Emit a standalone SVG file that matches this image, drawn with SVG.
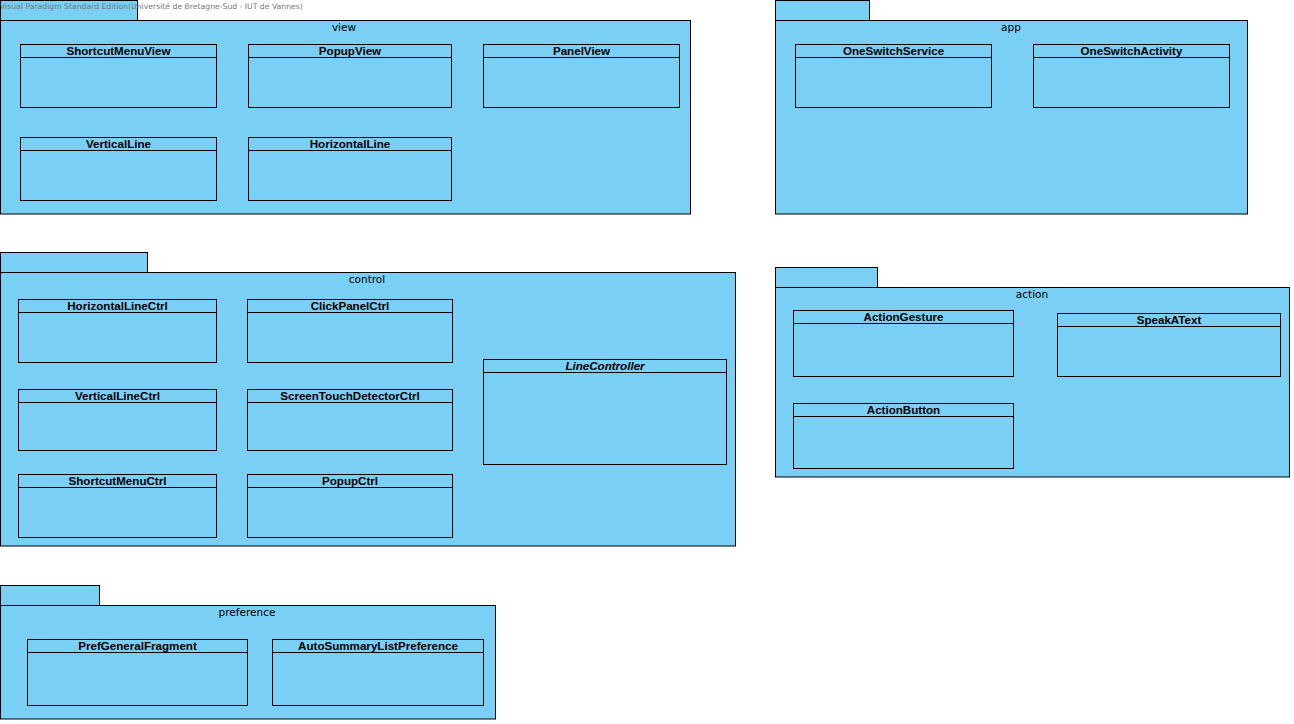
<svg xmlns="http://www.w3.org/2000/svg" width="1294" height="724" viewBox="0 0 1294 724">
<style>
.pk{fill:#7acff4;stroke:#000;stroke-width:1}
.cl{fill:#7acff4;stroke:#000;stroke-width:1}
.hl{stroke:#000;stroke-width:1}
.pl{font-family:"DejaVu Sans",sans-serif;font-size:10.5px;fill:#000;text-anchor:middle}
.ct{font-family:"Liberation Sans",Arial,sans-serif;font-size:11.6px;font-weight:bold;fill:#000;text-anchor:middle}
.it{font-style:italic}
.wm{font-family:"DejaVu Sans",sans-serif;font-size:7.7px;fill:#777}
</style>
<rect width="1294" height="724" fill="#fff"/>
<g id="pkg-view">
<rect class="pk" x="0.5" y="0.5" width="137" height="20"/>
<rect class="pk" x="0.5" y="20.5" width="690" height="193.5"/>
<text class="pl" x="344" y="31">view</text>
</g>
<g id="pkg-app">
<rect class="pk" x="775.5" y="0.5" width="94" height="20"/>
<rect class="pk" x="775.5" y="20.5" width="472" height="193.5"/>
<text class="pl" x="1011" y="31">app</text>
</g>
<g id="pkg-control">
<rect class="pk" x="0.5" y="252.5" width="147" height="20"/>
<rect class="pk" x="0.5" y="272.5" width="735" height="273.5"/>
<text class="pl" x="367" y="283">control</text>
</g>
<g id="pkg-action">
<rect class="pk" x="775.5" y="267.5" width="102" height="20"/>
<rect class="pk" x="775.5" y="287.5" width="514" height="189.5"/>
<text class="pl" x="1032" y="298">action</text>
</g>
<g id="pkg-preference">
<rect class="pk" x="0.5" y="585.5" width="99" height="20"/>
<rect class="pk" x="0.5" y="605.5" width="495" height="113.5"/>
<text class="pl" x="247" y="616">preference</text>
</g>
<text class="wm" x="0" y="9">Visual Paradigm Standard Edition(Université de Bretagne-Sud - IUT de Vannes)</text>

<g id="ShortcutMenuView"><rect class="cl" x="20.5" y="44.5" width="196" height="63"/><line class="hl" x1="20.5" y1="57.5" x2="216.5" y2="57.5"/><text class="ct" x="118.5" y="55">ShortcutMenuView</text></g>
<g id="PopupView"><rect class="cl" x="248.5" y="44.5" width="203" height="63"/><line class="hl" x1="248.5" y1="57.5" x2="451.5" y2="57.5"/><text class="ct" x="350" y="55">PopupView</text></g>
<g id="PanelView"><rect class="cl" x="483.5" y="44.5" width="196" height="63"/><line class="hl" x1="483.5" y1="57.5" x2="679.5" y2="57.5"/><text class="ct" x="581.5" y="55">PanelView</text></g>
<g id="VerticalLine"><rect class="cl" x="20.5" y="137.5" width="196" height="63"/><line class="hl" x1="20.5" y1="150.5" x2="216.5" y2="150.5"/><text class="ct" x="118.5" y="148">VerticalLine</text></g>
<g id="HorizontalLine"><rect class="cl" x="248.5" y="137.5" width="203" height="63"/><line class="hl" x1="248.5" y1="150.5" x2="451.5" y2="150.5"/><text class="ct" x="350" y="148">HorizontalLine</text></g>

<g id="OneSwitchService"><rect class="cl" x="795.5" y="44.5" width="196" height="63"/><line class="hl" x1="795.5" y1="57.5" x2="991.5" y2="57.5"/><text class="ct" x="893.5" y="55">OneSwitchService</text></g>
<g id="OneSwitchActivity"><rect class="cl" x="1033.5" y="44.5" width="196" height="63"/><line class="hl" x1="1033.5" y1="57.5" x2="1229.5" y2="57.5"/><text class="ct" x="1131.5" y="55">OneSwitchActivity</text></g>

<g id="HorizontalLineCtrl"><rect class="cl" x="18.5" y="299.5" width="198" height="63"/><line class="hl" x1="18.5" y1="312.5" x2="216.5" y2="312.5"/><text class="ct" x="117.5" y="310">HorizontalLineCtrl</text></g>
<g id="ClickPanelCtrl"><rect class="cl" x="247.5" y="299.5" width="205" height="63"/><line class="hl" x1="247.5" y1="312.5" x2="452.5" y2="312.5"/><text class="ct" x="350" y="310">ClickPanelCtrl</text></g>
<g id="VerticalLineCtrl"><rect class="cl" x="18.5" y="389.5" width="198" height="61"/><line class="hl" x1="18.5" y1="402.5" x2="216.5" y2="402.5"/><text class="ct" x="117.5" y="400">VerticalLineCtrl</text></g>
<g id="ScreenTouchDetectorCtrl"><rect class="cl" x="247.5" y="389.5" width="205" height="61"/><line class="hl" x1="247.5" y1="402.5" x2="452.5" y2="402.5"/><text class="ct" x="350" y="400">ScreenTouchDetectorCtrl</text></g>
<g id="ShortcutMenuCtrl"><rect class="cl" x="18.5" y="474.5" width="198" height="63"/><line class="hl" x1="18.5" y1="487.5" x2="216.5" y2="487.5"/><text class="ct" x="117.5" y="485">ShortcutMenuCtrl</text></g>
<g id="PopupCtrl"><rect class="cl" x="247.5" y="474.5" width="205" height="63"/><line class="hl" x1="247.5" y1="487.5" x2="452.5" y2="487.5"/><text class="ct" x="350" y="485">PopupCtrl</text></g>
<g id="LineController"><rect class="cl" x="483.5" y="359.5" width="243" height="105"/><line class="hl" x1="483.5" y1="372.5" x2="726.5" y2="372.5"/><text class="ct it" x="605" y="370">LineController</text></g>

<g id="ActionGesture"><rect class="cl" x="793.5" y="310.5" width="220" height="66"/><line class="hl" x1="793.5" y1="323.5" x2="1013.5" y2="323.5"/><text class="ct" x="903.5" y="321">ActionGesture</text></g>
<g id="SpeakAText"><rect class="cl" x="1057.5" y="313.5" width="223" height="63"/><line class="hl" x1="1057.5" y1="326.5" x2="1280.5" y2="326.5"/><text class="ct" x="1169" y="324">SpeakAText</text></g>
<g id="ActionButton"><rect class="cl" x="793.5" y="403.5" width="220" height="65"/><line class="hl" x1="793.5" y1="416.5" x2="1013.5" y2="416.5"/><text class="ct" x="903.5" y="414">ActionButton</text></g>

<g id="PrefGeneralFragment"><rect class="cl" x="27.5" y="639.5" width="220" height="66"/><line class="hl" x1="27.5" y1="652.5" x2="247.5" y2="652.5"/><text class="ct" x="137.5" y="650">PrefGeneralFragment</text></g>
<g id="AutoSummaryListPreference"><rect class="cl" x="272.5" y="639.5" width="211" height="66"/><line class="hl" x1="272.5" y1="652.5" x2="483.5" y2="652.5"/><text class="ct" x="378" y="650">AutoSummaryListPreference</text></g>
<g id="connectors"></g>
</svg>
